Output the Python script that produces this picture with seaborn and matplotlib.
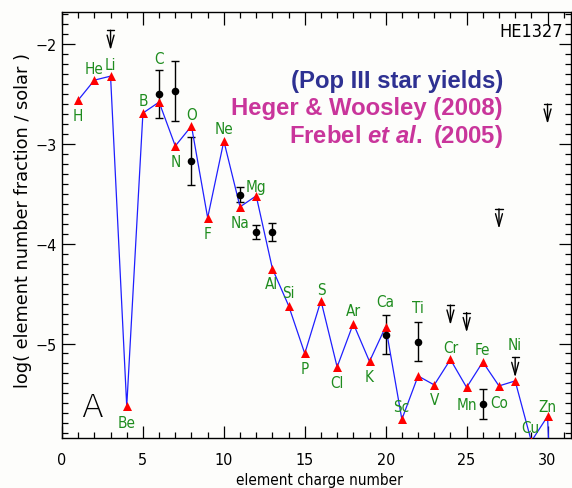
import numpy as np
import pandas as pd
import matplotlib
matplotlib.use("Agg")
import matplotlib.pyplot as plt
import seaborn as sns
from matplotlib.ticker import MultipleLocator

# ---------------- data ----------------
elements = ['H', 'He', 'Li', 'Be', 'B', 'C', 'N', 'O', 'F', 'Ne', 'Na', 'Mg', 'Al', 'Si', 'P',
            'S', 'Cl', 'Ar', 'K', 'Ca', 'Sc', 'Ti', 'V', 'Cr', 'Mn', 'Fe', 'Co', 'Ni', 'Cu', 'Zn', '']
charge = list(range(1, 32))
model_yield = [-2.56, -2.36, -2.32, -5.63, -2.69, -2.58, -3.02, -2.82, -3.74, -2.97, -3.63, -3.52,
               -4.25, -4.62, -5.10, -4.57, -5.235, -4.80, -5.18, -4.83, -5.76, -5.325, -5.415,
               -5.16, -5.44, -5.185, -5.425, -5.375, -5.98, -5.73, -9.5]

obs_charge = [6, 7, 8, 11, 12, 13, 20, 22, 26]
obs_value = [-2.50, -2.47, -3.17, -3.51, -3.88, -3.885, -4.91, -4.98, -5.61]
obs_error = [0.24, 0.30, 0.24, 0.075, 0.07, 0.09, 0.20, 0.20, 0.15]

limit_charge = [3, 24, 25, 27, 28, 30]
limit_value = [-1.86, -4.615, -4.69, -3.65, -5.14, -2.60]

title_lines = ["(Pop III star yields)", "Heger & Woosley (2008)", r"Frebel $\mathit{et\ al.}$ (2005)"]
star_name = "HE1327"
panel_letter = "A"
x_label = "element charge number"
y_label = "log( element number fraction / solar )"

# label placement (pixel offsets from each point), kept separate from the data
label_dy = [-15.6, 11.7, 11.6, -16, 12.6, 44, -15.7, 11.5, -15.6, 12, -16, 9, -15, 13.5, -15,
            11, -15.5, 13, -15, 25, 13, 68.5, -15, 12, -17, 12.8, -16.5, 36, 14, 10, 0]
label_dx = [0] * 31
label_dx[12] = -1
label_dx[20] = -1
label_dx[28] = -1

model_df = pd.DataFrame({"Z": charge, "yield": model_yield, "el": elements})
obs_df = pd.DataFrame({"Z": obs_charge, "val": obs_value, "err": obs_error})

# ---------------- style ----------------
sns.set_style("ticks")
plt.rcParams["font.family"] = ["DejaVu Sans"]
plt.rcParams["text.color"] = "black"
plt.rcParams["axes.labelcolor"] = "black"
plt.rcParams["xtick.color"] = "black"
plt.rcParams["ytick.color"] = "black"
plt.rcParams["mathtext.fontset"] = "custom"
plt.rcParams["mathtext.it"] = "Liberation Sans:bold:italic"
plt.rcParams["mathtext.rm"] = "Liberation Sans:bold"

bg = "#fdfdfb"
fig = plt.figure(figsize=(5.72, 4.89), dpi=100, facecolor=bg)
ax = fig.add_axes([62 / 572, 1 - 439.3 / 489, (571 - 62) / 572, (439.3 - 13.3) / 489])
ax.set_facecolor(bg)

ax.errorbar(obs_df["Z"], obs_df["val"], yerr=obs_df["err"], fmt="none", ecolor="black",
            elinewidth=1.0, capsize=2.7, capthick=1.0, zorder=2)
sns.lineplot(data=model_df, x="Z", y="yield", color="#1f1fff", linewidth=0.9, ax=ax,
             zorder=3, sort=False)
sns.scatterplot(data=model_df, x="Z", y="yield", marker="^", color="#ff0000", s=42,
                linewidth=0, ax=ax, zorder=4)
sns.scatterplot(data=obs_df, x="Z", y="val", marker="o", color="black", s=30,
                linewidth=0, ax=ax, zorder=5)

for zx, zv in zip(limit_charge, limit_value):
    ax.plot([zx - 0.22, zx + 0.22], [zv, zv], color="black", lw=1.0, zorder=5)
    ax.annotate("", xy=(zx, zv - 0.2), xytext=(zx, zv),
                arrowprops=dict(arrowstyle="->,head_length=0.9,head_width=0.25",
                                lw=1.0, color="black", shrinkA=0, shrinkB=0), zorder=5)

for el, zx, zv, dx, dy in zip(elements, charge, model_yield, label_dx, label_dy):
    if el:
        ax.annotate(el, xy=(zx, zv), xytext=(dx, dy), textcoords="offset pixels",
                    ha="center", va="center", fontsize=11, color="#1e8c1e",
                    fontstretch="condensed", annotation_clip=False, zorder=6)

ax.set_xlim(0, 31.45)
ax.set_ylim(-5.95, -1.68)
ax.xaxis.set_major_locator(MultipleLocator(5))
ax.xaxis.set_minor_locator(MultipleLocator(1))
ax.yaxis.set_major_locator(MultipleLocator(1))
ax.yaxis.set_minor_locator(MultipleLocator(0.1))
ax.tick_params(which="both", direction="in", top=True, right=True, color="black",
               labelcolor="black", width=0.9, labelsize=11.5)
ax.tick_params(which="major", length=9)
ax.tick_params(which="minor", length=4.5)
ax.tick_params(axis="x", pad=10)
ax.tick_params(axis="y", pad=4)
for lab in ax.get_xticklabels() + ax.get_yticklabels():
    lab.set_fontstretch("condensed")
for s in ax.spines.values():
    s.set_linewidth(1.0)
    s.set_color("black")

ax.set_xlabel(x_label, fontsize=11, fontstretch="condensed", color="black", va="center")
ax.xaxis.set_label_coords((319 - 62) / 509, (489 - 480.5 - 49.7) / 426)
ax.set_ylabel(y_label, fontsize=12.8, color="black", va="center")
ax.yaxis.set_label_coords((23.5 - 62) / 509, (489 - 221 - 49.7) / 426)

colors = ["#2e3192", "#c9359b", "#c9359b"]
ys = [81.7, 108.3, 136.0]
for t, c, yy in zip(title_lines, colors, ys):
    fig.text(503 / 572, 1 - yy / 489, t, ha="right", va="center", color=c,
             fontsize=17.2, fontweight="bold", family="Liberation Sans")

fig.text(563 / 572, 1 - 31.7 / 489, star_name, ha="right", va="center", fontsize=13,
         fontstretch="condensed")
fig.text(91.7 / 572, 1 - 408 / 489, panel_letter, ha="center", va="center", fontsize=23,
         fontweight="light")

fig.savefig("out.png", dpi=100, facecolor=bg)
